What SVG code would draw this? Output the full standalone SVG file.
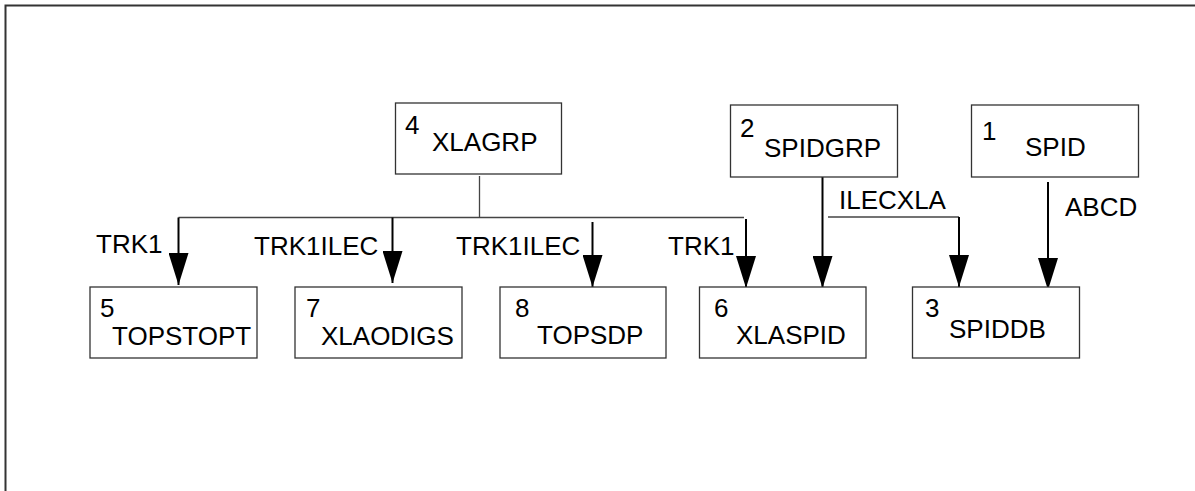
<svg xmlns="http://www.w3.org/2000/svg" width="1195" height="491" viewBox="0 0 1195 491">
<defs>
<style>
.box{fill:#fff;stroke:#333;stroke-width:1.3}
.t{font-family:"Liberation Sans",Arial,sans-serif;font-size:26px;fill:#000}
.bus{fill:none;stroke:#444;stroke-width:1.3}
.arr{fill:none;stroke:#000;stroke-width:2;marker-end:url(#ah)}
</style>
<marker id="ah" markerUnits="userSpaceOnUse" markerWidth="32" markerHeight="20" refX="32" refY="10" orient="auto" viewBox="0 0 32 20">
<path d="M0,0 L32,10 L0,20 Z" fill="#000"/>
</marker>
</defs>
<rect x="0" y="0" width="1195" height="491" fill="#fff"/>
<path d="M5.5,491 V5.5 H1195" fill="none" stroke="#333" stroke-width="2"/>

<g id="connectors">
<path class="bus" d="M479.5,176 V217.5 M178.5,217.5 H744"/>
<path class="arr" d="M178.5,217.5 V285"/>
<path class="arr" d="M392.5,217.5 V283"/>
<path class="arr" d="M592.5,222 V287"/>
<path class="arr" d="M746,219 V288"/>
<path class="arr" d="M822.5,177 V288"/>
<path class="bus" d="M828,217 H959"/>
<path class="arr" d="M959,217 V287"/>
<path class="arr" d="M1048,182 V290"/>
<text class="t" x="96" y="253">TRK1</text>
<text class="t" x="254" y="255">TRK1ILEC</text>
<text class="t" x="456" y="255">TRK1ILEC</text>
<text class="t" x="668" y="255">TRK1</text>
<text class="t" x="839" y="209">ILECXLA</text>
<text class="t" x="1065" y="216">ABCD</text>
</g>

<g id="node4">
<rect class="box" x="395.5" y="103" width="166" height="71"/>
<text class="t" x="405" y="134">4</text>
<text class="t" x="432" y="151">XLAGRP</text>
</g>
<g id="node2">
<rect class="box" x="730.5" y="105" width="167" height="72"/>
<text class="t" x="740" y="137">2</text>
<text class="t" x="764" y="157">SPIDGRP</text>
</g>
<g id="node1">
<rect class="box" x="971.5" y="105" width="167" height="72"/>
<text class="t" x="982" y="140">1</text>
<text class="t" x="1025" y="156">SPID</text>
</g>
<g id="node5">
<rect class="box" x="90" y="287" width="167" height="71"/>
<text class="t" x="100" y="317">5</text>
<text class="t" x="112" y="345">TOPSTOPT</text>
</g>
<g id="node7">
<rect class="box" x="295" y="287" width="167" height="71"/>
<text class="t" x="306" y="317">7</text>
<text class="t" x="321" y="345">XLAODIGS</text>
</g>
<g id="node8">
<rect class="box" x="500" y="287" width="166" height="71"/>
<text class="t" x="515" y="317">8</text>
<text class="t" x="537" y="344">TOPSDP</text>
</g>
<g id="node6">
<rect class="box" x="699.5" y="287" width="166.5" height="71"/>
<text class="t" x="714" y="317">6</text>
<text class="t" x="736" y="344">XLASPID</text>
</g>
<g id="node3">
<rect class="box" x="912.5" y="287" width="167" height="71"/>
<text class="t" x="925" y="317">3</text>
<text class="t" x="949" y="338">SPIDDB</text>
</g>
</svg>
